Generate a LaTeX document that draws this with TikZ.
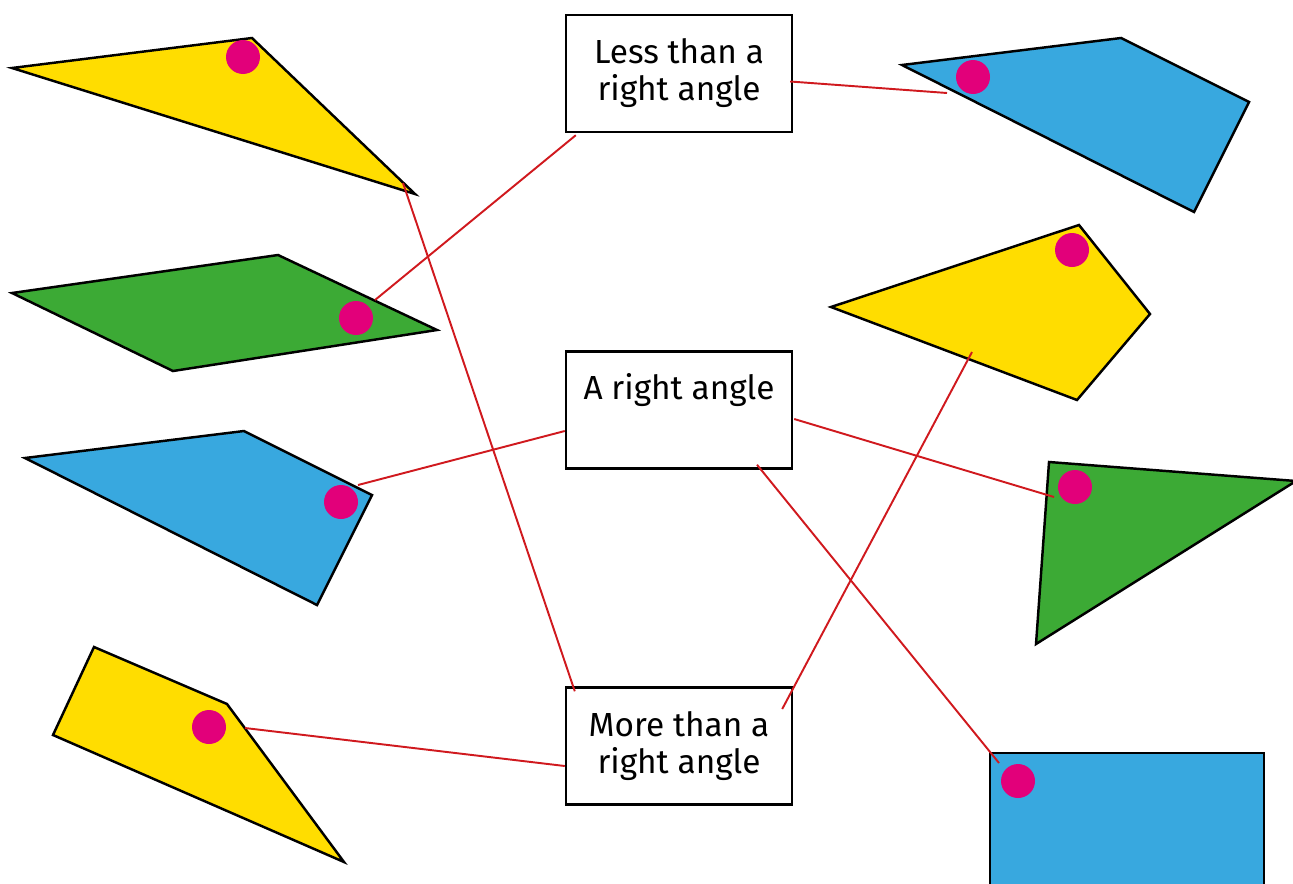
\documentclass[tikz,border=0pt]{standalone}
\usepackage{fontspec}
\setmainfont{Fira Sans}
\usepackage{tikz}
\usetikzlibrary{calc}
\definecolor{myyellow}{RGB}{255,221,0}
\definecolor{mygreen}{RGB}{60,170,53}
\definecolor{myblue}{RGB}{56,168,223}
\definecolor{mypink}{RGB}{226,0,122}
\definecolor{myred}{RGB}{208,25,30}
\tikzset{
  anglebox/.style={rectangle, draw=black, fill=white, line width=1.4pt,
    minimum width=4.52cm, minimum height=2.34cm, inner sep=0pt,
    align=center, font=\fontsize{19}{21}\selectfont},
  poly/.style={draw=black, line width=1.4pt, line join=miter},
  anglemark/.style={circle, fill=mypink, minimum size=0.68cm, inner sep=0pt},
  link/.style={line width=1.1pt, color=myred}
}

\begin{document}
\begin{tikzpicture}[x=0.02cm, y=-0.02cm]
  \useasboundingbox (0,0) rectangle (1293,883);
  \clip (0,0) rectangle (1293,883);

  % Shapes on the left
  \draw[poly, fill=myyellow] (12,68) -- (252,38) -- (415,194) -- cycle;
  \draw[poly, fill=mygreen] (12,293) -- (278,255) -- (437,330) -- (173,371) -- cycle;
  \draw[poly, fill=myblue] (25,458) -- (244,431) -- (372,495) -- (317,605) -- cycle;
  \draw[poly, fill=myyellow] (94,647) -- (227,704) -- (344,862) -- (53,735) -- cycle;

  % Shapes on the right
  \draw[poly, fill=myblue] (902,65) -- (1121,38) -- (1249,102) -- (1194,212) -- cycle;
  \draw[poly, fill=myyellow] (831,307) -- (1079,225) -- (1150,314) -- (1077,400) -- cycle;
  \draw[poly, fill=mygreen] (1049,462) -- (1296,481) -- (1036,644) -- cycle;
  \draw[poly, fill=myblue] (990,753) rectangle (1264,900);

  % Angle marks
  \node[anglemark] (markA) at (243,57) {};
  \node[anglemark] (markB) at (356,318) {};
  \node[anglemark] (markC) at (341,502) {};
  \node[anglemark] (markD) at (209,727) {};
  \node[anglemark] (markE) at (973,77) {};
  \node[anglemark] (markF) at (1072,250) {};
  \node[anglemark] (markG) at (1075,487) {};
  \node[anglemark] (markH) at (1018,781) {};

  % Labels
  \node[anglebox] (less) at (679,73.5) {Less than a\\right angle};
  \node[anglebox] (right) at (679,410) {A right angle\\\strut};
  \node[anglebox] (more) at (679,746) {More than a\\right angle};

  % Line ends in the shapes
  \coordinate (endA) at (403,183);
  \coordinate (endB) at (375,300);
  \coordinate (endC) at (358,485);
  \coordinate (endD) at (245,728);
  \coordinate (endE) at (947,93);
  \coordinate (endF) at (972,352);
  \coordinate (endG) at (1054,497);
  \coordinate (endH) at (999,763);

  % Connections
  \draw[link] ($(less.south west)+(11,2)$) -- (endB);
  \draw[link] ($(less.east)+(-3,8)$) -- (endE);
  \draw[link] (endA) -- ($(more.north west)+(10,5)$);
  \draw[link] ($(right.west)+(0,21)$) -- (endC);
  \draw[link] ($(right.east)+(1,9)$) -- (endG);
  \draw[link] ($(right.south)+(78,-5)$) -- (endH);
  \draw[link] ($(more.east)+(-11,-37)$) -- (endF);
  \draw[link] ($(more.west)+(0,20)$) -- (endD);
\end{tikzpicture}
\end{document}
